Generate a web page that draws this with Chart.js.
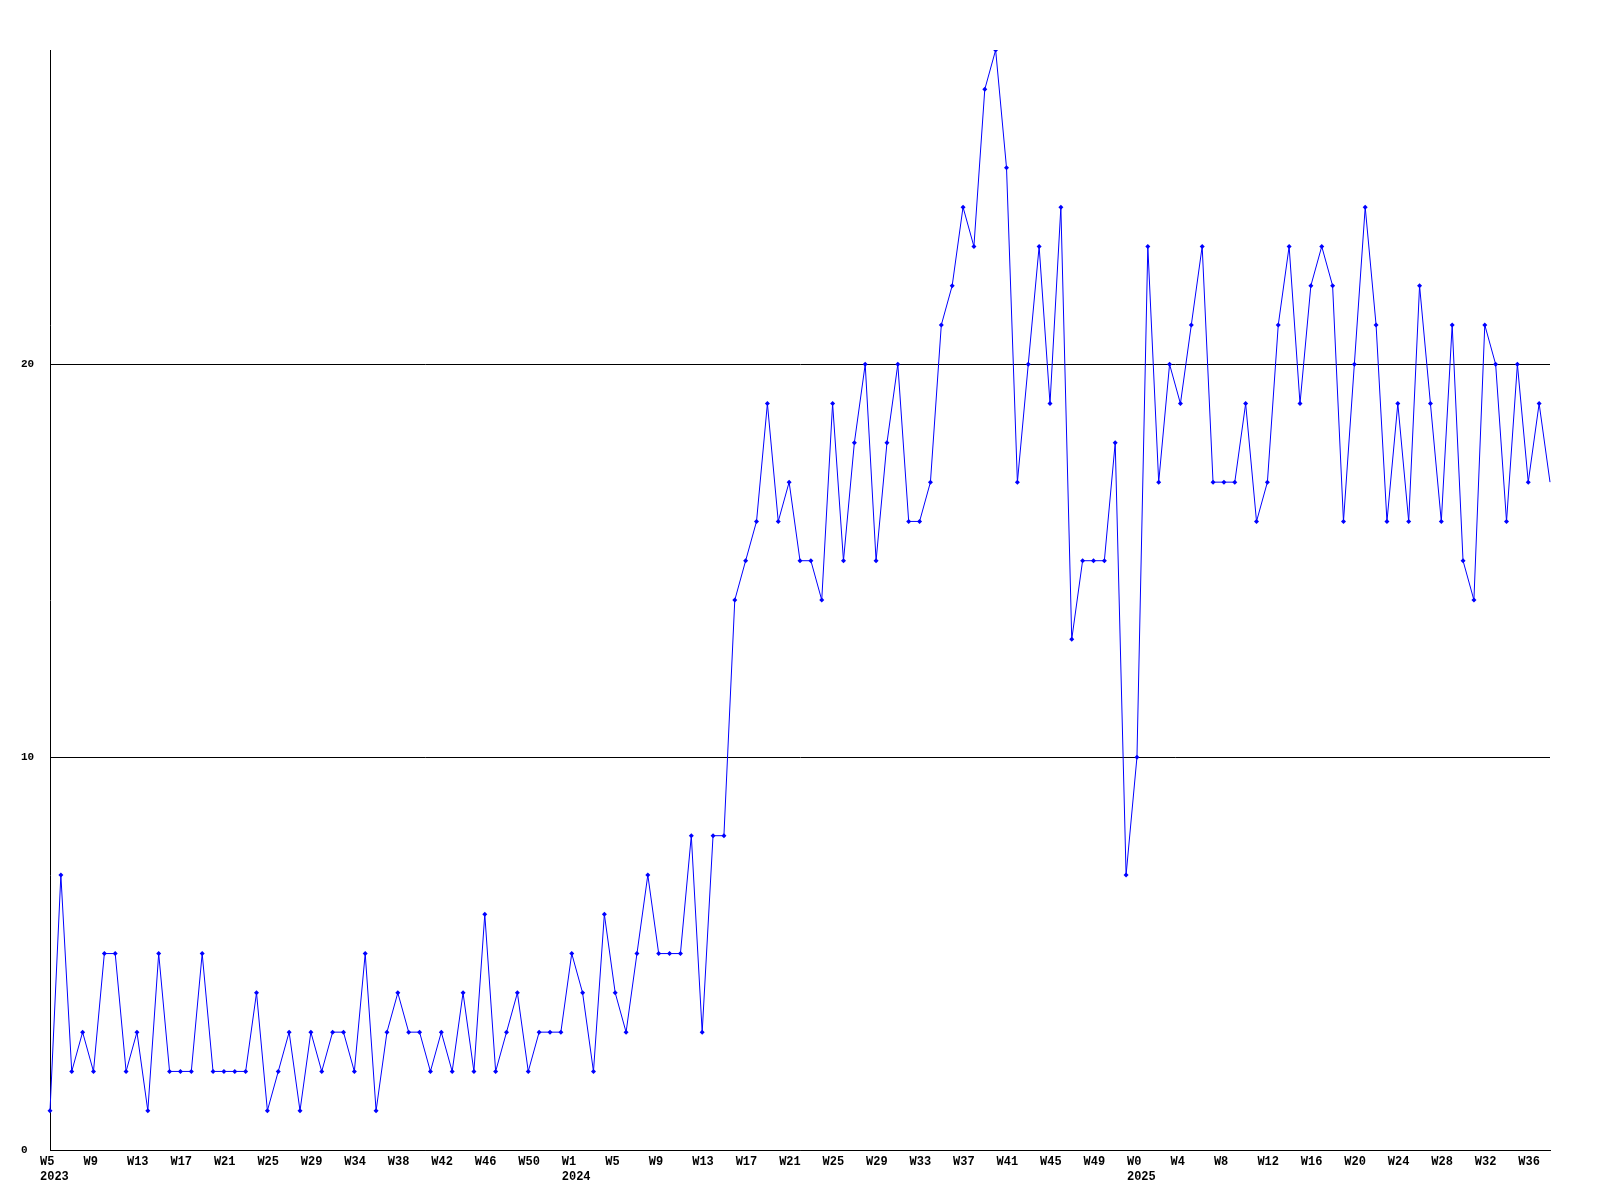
<!DOCTYPE html>
<html>
<head>
<meta charset="utf-8">
<script src="https://cdn.jsdelivr.net/npm/chart.js@4.4.1/dist/chart.umd.min.js"></script>
<style>
  html, body { margin: 0; padding: 0; background: #fff; }
  #chart { display: block; }
</style>
</head>
<body>
<canvas id="chart" width="1600" height="1200"></canvas>
<script>
// week numbers per year, one entry per point
const years = [2023, 2024, 2025];
const weeks2023 = [5,6,7,8,9,10,11,12,13,14,15,16,17,18,19,20,21,22,23,24,25,26,27,28,29,
                   31,32,33,34,35,36,37,38,39,40,41,42,43,44,45,46,47,48,49,50,51,52,53];
const weeks2024 = [1,2,3,4,5,6,7,8,9,10,11,12,13,14,15,16,17,18,19,20,21,22,23,24,25,26,
                   27,28,29,30,31,32,33,34,35,36,37,38,39,40,41,42,43,44,45,46,47,48,49,50,51,52];
const weeks2025 = [0,1,2,3,4,5,6,7,8,9,10,11,12,13,14,15,16,17,18,19,20,21,22,23,24,25,26,
                   27,28,29,30,31,32,33,34,35,36,37,38];

// weekly counts
const counts = [
  1,7,2,3,2,5,5,2,3,1,5,2,2,2,5,2,2,2,2,4,
  1,2,3,1,3,2,3,3,2,5,1,3,4,3,3,2,3,2,4,
  2,6,2,3,4,2,3,3,3,5,4,2,6,4,3,5,7,5,5,5,
  8,3,8,8,
  14,15,16,19,16,17,15,15,14,19,15,18,20,15,18,
  20,16,16,17,21,22,24,23,27,28,25,17,20,23,19,24,13,
  15,15,15,18,7,10,23,17,20,19,21,
  23,17,17,17,19,16,17,21,23,19,22,23,22,16,20,24,21,16,
  19,16,22,19,16,21,15,14,21,20,16,20,17,19,17
];

const yTicks = [0, 10, 20];
const yMax = 28;
const labelEvery = 4;

// first week of each year carries the year on a second line
const labels = [];
[weeks2023, weeks2024, weeks2025].forEach((weeks, y) => {
    weeks.forEach((w, i) => {
        labels.push(i === 0 ? ['W' + w, String(years[y])] : 'W' + w);
    });
});

const tickFont = { family: "'Liberation Mono', 'DejaVu Sans Mono', monospace", weight: 'bold' };

new Chart(document.getElementById('chart').getContext('2d'), {
    type: 'line',
    data: {
        labels: labels,
        datasets: [{
            data: counts,
            borderColor: '#0000ff',
            backgroundColor: '#0000ff',
            borderWidth: 1,
            tension: 0,
            fill: false,
            pointStyle: 'rectRot',
            pointRadius: ctx => ctx.dataIndex === counts.length - 1 ? 0 : 2.5,
            pointBorderWidth: 0,
            pointBackgroundColor: '#0000ff'
        }]
    },
    options: {
        responsive: false,
        animation: false,
        layout: { padding: { left: 21, right: 50, top: 50, bottom: 0 } },
        plugins: { legend: { display: false }, tooltip: { enabled: false } },
        scales: {
            x: {
                type: 'category',
                offset: false,
                grid: { display: false, drawTicks: false },
                border: { display: true, color: '#000', width: 1 },
                afterFit: s => { s.height = 50; },
                ticks: {
                    autoSkip: false,
                    maxRotation: 0,
                    minRotation: 0,
                    align: 'start',
                    labelOffset: -10,
                    padding: 4,
                    color: '#000',
                    font: Object.assign({ size: 12, lineHeight: 1.25 }, tickFont),
                    callback: function (val, i) {
                        return i % labelEvery === 0 ? this.getLabelForValue(val) : '';
                    }
                }
            },
            y: {
                min: 0,
                max: yMax,
                grid: { color: '#000', lineWidth: 1, drawTicks: false },
                border: { display: true, color: '#000', width: 1 },
                afterFit: s => { s.width = 29; },
                afterBuildTicks: s => { s.ticks = yTicks.map(v => ({ value: v })); },
                ticks: {
                    crossAlign: 'far',
                    padding: 0,
                    color: '#000',
                    font: Object.assign({ size: 11 }, tickFont)
                }
            }
        }
    }
});
</script>
</body>
</html>
